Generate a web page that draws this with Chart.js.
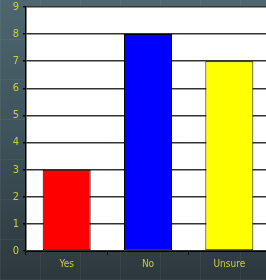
<!DOCTYPE html>
<html><head><meta charset="utf-8">
<script src="https://cdn.jsdelivr.net/npm/chart.js@4"></script>
<style>
html,body{margin:0;padding:0;width:266px;height:280px;overflow:hidden;}
body{
 background:
  repeating-linear-gradient(90deg, rgba(255,255,255,0.05) 0 1px, transparent 1px 40px),
  repeating-linear-gradient(0deg, rgba(255,255,255,0.05) 0 1px, transparent 1px 40px),
  linear-gradient(180deg,#4d6670 0%,#3f545c 45%,#2d383c 100%);
}
#wrap{position:absolute;left:0;top:0;width:280px;height:280px;}
</style></head>
<body><div id="wrap"><canvas id="c" width="280" height="280"></canvas></div>
<script>
const categories = ["Yes","No","Unsure"];
const values = [3,8,7];
const barColors = ["#ff0000","#0000ff","#ffff00"];
const yTicks = [0,1,2,3,4,5,6,7,8,9];

const FONT = "'DejaVu Sans Condensed','Liberation Sans Narrow','Liberation Sans',Arial,sans-serif";
const plotBg = {
  id:'plotBg',
  beforeDraw(chart){
    const {ctx, chartArea:a} = chart;
    ctx.save(); ctx.fillStyle='#ffffff';
    ctx.fillRect(a.left,a.top,a.right-a.left,a.bottom-a.top);
    ctx.restore();
  }
};
new Chart(document.getElementById('c'),{
  type:'bar',
  data:{labels:categories,datasets:[{data:values,backgroundColor:barColors,borderColor:'#000',borderWidth:1,borderSkipped:false,categoryPercentage:1,barPercentage:0.59}]},
  options:{
    responsive:false,animation:false,
    layout:{padding:{top:7,right:10,left:0,bottom:0}},
    plugins:{legend:{display:false},tooltip:{enabled:false}},
    scales:{
      x:{
        grid:{display:true,drawOnChartArea:false,color:'#000',tickLength:4,offset:true},
        border:{display:true,color:'#000'},
        ticks:{color:'#c8cf3a',font:{family:FONT,size:10},padding:3},
        afterFit(s){s.height=29;}
      },
      y:{
        min:0,max:9,
        afterBuildTicks(s){s.ticks=yTicks.map(v=>({value:v}));},
        grid:{color:'#333',lineWidth:1.5,tickLength:3,tickColor:'#000'},
        border:{display:true,color:'#000',width:1.5},
        ticks:{color:'#c8cf3a',font:{family:FONT,size:11,lineHeight:1},padding:4},
        afterFit(s){s.width=26; s.paddingTop=0; s.paddingBottom=0;}
      }
    }
  },
  plugins:[plotBg]
});
</script></body></html>
